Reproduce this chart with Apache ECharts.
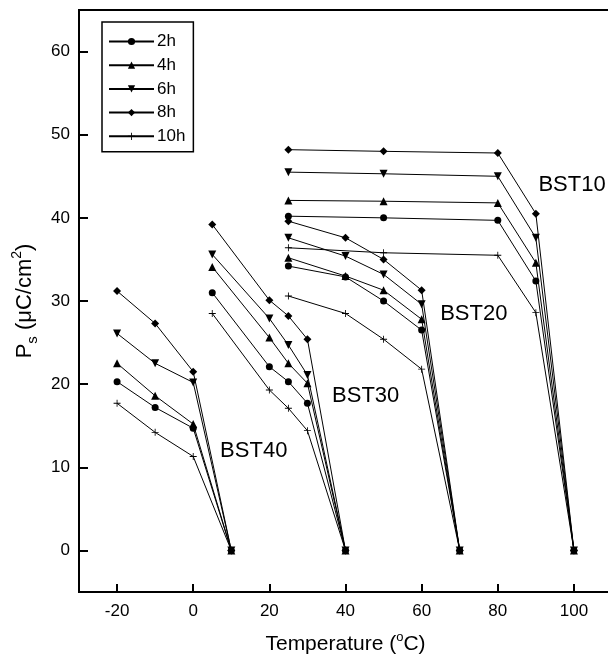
<!DOCTYPE html>
<html>
<head>
<meta charset="utf-8">
<title>Ps vs Temperature</title>
<script src="https://cdn.jsdelivr.net/npm/echarts@6/dist/echarts.min.js"></script>
<style>
  html, body { margin: 0; padding: 0; background: #fff; }
  #chart { width: 608px; height: 655px; }
</style>
</head>
<body>
<div id="chart"></div>
<script>
// Annealing times (legend entries)
const hours = ['2h', '4h', '6h', '8h', '10h'];

// Measurement temperatures (°C) for each composition
const tempBST40 = [-20, -10, 0, 10];
const tempBST30 = [5, 20, 25, 30, 40];
const tempBST20 = [25, 40, 50, 60, 70];
const tempBST10 = [25, 50, 80, 90, 100];

// Spontaneous polarization Ps (µC/cm²), one row per annealing time
const psBST40 = [
  [20.3, 17.2, 14.7, 0],
  [22.5, 18.6, 15.2, 0],
  [26.1, 22.5, 20.2, 0],
  [31.2, 27.3, 21.5, 0],
  [17.7, 14.2, 11.3, 0]
];
const psBST30 = [
  [31.0, 22.1, 20.3, 17.7, 0],
  [34.1, 25.6, 22.5, 20.1, 0],
  [35.6, 27.9, 24.7, 21.1, 0],
  [39.2, 30.1, 28.2, 25.4, 0],
  [28.5, 19.3, 17.1, 14.4, 0]
];
const psBST20 = [
  [34.2, 32.9, 30.0, 26.5, 0],
  [35.2, 33.0, 31.3, 27.8, 0],
  [37.6, 35.4, 33.2, 29.6, 0],
  [39.6, 37.6, 35.0, 31.3, 0],
  [30.6, 28.5, 25.4, 21.8, 0]
];
const psBST10 = [
  [40.2, 40.0, 39.7, 32.4, 0],
  [42.1, 42.0, 41.8, 34.6, 0],
  [45.5, 45.3, 45.0, 37.6, 0],
  [48.2, 48.0, 47.8, 40.5, 0],
  [36.4, 35.8, 35.5, 28.6, 0]
];

// Tick values
const xTicks = [-20, 0, 20, 40, 60, 80, 100];
const yTicks = [0, 10, 20, 30, 40, 50, 60];

// Composition labels, anchored in data units
const groupLabels = [
  { name: 'BST40', value: [15.9, 12.0] },
  { name: 'BST30', value: [45.3, 18.6] },
  { name: 'BST20', value: [73.7, 28.5] },
  { name: 'BST10', value: [99.5, 43.9] }
];

const FONT = '"Liberation Sans", Arial, Helvetica, sans-serif';

const symbols = {
  '2h': { symbol: 'circle', size: 7 },
  '4h': { symbol: 'triangle', size: 8 },
  '6h': { symbol: 'path://M0,0L10,0L5,9Z', size: 8 },
  '8h': { symbol: 'diamond', size: 8 },
  '10h': { symbol: 'path://M4.4,0H5.6V4.4H10V5.6H5.6V10H4.4V5.6H0V4.4H4.4Z', size: 7 }
};

const groups = [
  [tempBST40, psBST40],
  [tempBST30, psBST30],
  [tempBST20, psBST20],
  [tempBST10, psBST10]
];

const series = [];
hours.forEach((h, hi) => {
  groups.forEach(([temps, ps]) => {
    series.push({
      name: h,
      type: 'line',
      data: temps.map((t, i) => [t, ps[hi][i]]),
      symbol: symbols[h].symbol,
      symbolSize: symbols[h].size,
      showAllSymbol: true,
      lineStyle: { color: '#000', width: 1 },
      itemStyle: { color: '#000' },
      emphasis: { disabled: true },
      z: 3
    });
  });
});

series.push({
  type: 'scatter',
  data: groupLabels,
  symbolSize: 0,
  silent: true,
  itemStyle: { opacity: 1 },
  label: {
    show: true,
    position: 'inside',
    formatter: p => p.name,
    color: '#000',
    opacity: 1,
    fontSize: 22,
    fontFamily: FONT
  },
  z: 5
});

const chart = echarts.init(document.getElementById('chart'), null, { renderer: 'canvas' });
chart.setOption({
  animation: false,
  backgroundColor: '#fff',
  grid: {
    left: 79, top: 10, width: 533, height: 582,
    show: true, borderColor: '#000', borderWidth: 2,
    containLabel: false, outerBoundsMode: 'none'
  },
  legend: {
    data: hours,
    orient: 'vertical',
    left: 102,
    top: 22,
    padding: [11, 8, 7, 6],
    itemGap: 6.7,
    itemWidth: 45,
    itemHeight: 9,
    borderColor: '#000',
    borderWidth: 1.5,
    selectedMode: false,
    textStyle: { color: '#000', fontSize: 17, fontFamily: FONT, padding: [0, 0, 0, -2] }
  },
  xAxis: {
    type: 'value',
    min: -30,
    max: 110,
    name: '{t|Temperature (}{sup|o}{t|C)}',
    nameLocation: 'middle',
    nameGap: 39,
    nameTextStyle: {
      rich: {
        t: { fontSize: 21, fontFamily: FONT, color: '#000', lineHeight: 24, verticalAlign: 'bottom' },
        sup: { fontSize: 13, fontFamily: FONT, color: '#000', lineHeight: 13, verticalAlign: 'top' }
      }
    },
    axisLine: { show: true, onZero: false, lineStyle: { color: '#000', width: 2 } },
    axisTick: { show: true, inside: true, length: 8, customValues: xTicks, lineStyle: { color: '#000', width: 2 } },
    axisLabel: { customValues: xTicks, color: '#000', fontSize: 17, fontFamily: FONT, margin: 11 },
    splitLine: { show: false }
  },
  yAxis: {
    type: 'value',
    min: -5,
    max: 65,
    name: '{p|P}{sub|s}{p| (μC/cm}{sup|2}{p|)}',
    nameLocation: 'middle',
    nameGap: 37,
    nameRotate: 90,
    nameTextStyle: {
      rich: {
        p: { fontSize: 22, fontFamily: FONT, color: '#000', lineHeight: 30 },
        sub: { fontSize: 15, fontFamily: FONT, color: '#000', lineHeight: 15, verticalAlign: 'bottom' },
        sup: { fontSize: 14, fontFamily: FONT, color: '#000', lineHeight: 14, verticalAlign: 'top' }
      }
    },
    axisLine: { show: true, onZero: false, lineStyle: { color: '#000', width: 2 } },
    axisTick: { show: true, inside: true, length: 9, customValues: yTicks, lineStyle: { color: '#000', width: 2 } },
    axisLabel: { customValues: yTicks, color: '#000', fontSize: 17, fontFamily: FONT, margin: 9 },
    splitLine: { show: false }
  },
  series: series
});
</script>
</body>
</html>
